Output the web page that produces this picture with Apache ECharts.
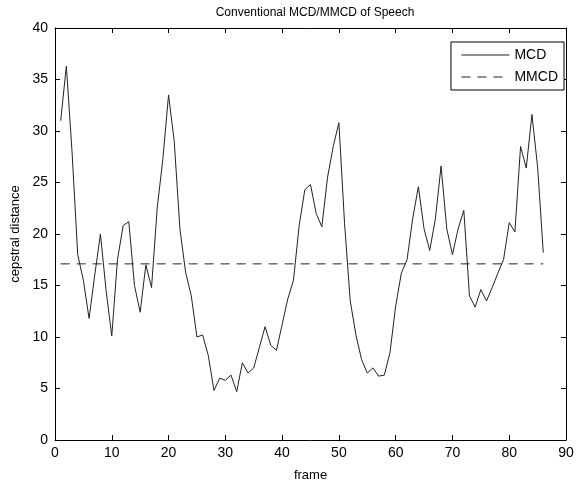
<!DOCTYPE html>
<html>
<head>
<meta charset="utf-8">
<script src="https://cdn.jsdelivr.net/npm/echarts@6/dist/echarts.min.js"></script>
<style>html,body{margin:0;padding:0;background:#fff;}#c{width:580px;height:487px;}</style>
</head>
<body>
<div id="c"></div>
<script>
var frames = [];
for (var i = 1; i <= 86; i++) frames.push(i);
var mcd = [31.0, 36.3, 28.0, 18.0, 15.5, 11.8, 16.0, 20.0, 14.5, 10.1,
           17.5, 20.8, 21.2, 15.0, 12.4, 17.0, 14.8, 22.5, 27.3, 33.5,
           29.0, 20.5, 16.3, 14.0, 10.0, 10.2, 8.2, 4.8, 6.0, 5.8,
           6.3, 4.7, 7.5, 6.5, 7.0, 9.0, 11.0, 9.2, 8.7, 11.2,
           13.7, 15.5, 20.8, 24.3, 24.8, 22.0, 20.7, 25.5, 28.5, 30.8,
           21.0, 13.5, 10.2, 7.8, 6.5, 7.0, 6.2, 6.3, 8.5, 13.0,
           16.2, 17.5, 21.5, 24.6, 20.5, 18.4, 21.5, 26.6, 20.5, 18.0,
           20.5, 22.3, 14.0, 12.9, 14.6, 13.5, 14.8, 16.2, 17.5, 21.1,
           20.2, 28.5, 26.4, 31.6, 26.5, 18.2];
var mmcdValue = 17.1;
var mmcd = frames.map(function () { return mmcdValue; });
var seriesNames = ['MCD', 'MMCD'];
var xTicks = {min: 0, max: 90, interval: 10};
var yTicks = {min: 0, max: 40, interval: 5};

var font = 'Liberation Sans, Arial, sans-serif';
var chart = echarts.init(document.getElementById('c'), null, {renderer: 'canvas'});
function pairs(ys) { return frames.map(function (f, i) { return [f, ys[i]]; }); }
function axisStyle() {
  return {
    axisLine: {show: true, onZero: false, lineStyle: {color: '#000', width: 1}},
    axisTick: {show: true, inside: true, length: 5, lineStyle: {color: '#000'}},
    splitLine: {show: false}
  };
}
var xMain = Object.assign({type: 'value', position: 'bottom', min: xTicks.min, max: xTicks.max, interval: xTicks.interval,
  name: 'frame', nameLocation: 'middle', nameGap: 29,
  nameTextStyle: {fontFamily: font, fontSize: 13, color: '#000'},
  axisLabel: {fontFamily: font, fontSize: 14, color: '#000', margin: 6}}, axisStyle());
var xTop = Object.assign({type: 'value', position: 'top', min: xTicks.min, max: xTicks.max, interval: xTicks.interval,
  axisLabel: {show: false}}, axisStyle());
var yMain = Object.assign({type: 'value', position: 'left', min: yTicks.min, max: yTicks.max, interval: yTicks.interval,
  name: 'cepstral distance', nameLocation: 'middle', nameGap: 31,
  nameTextStyle: {fontFamily: font, fontSize: 13, color: '#000'},
  axisLabel: {fontFamily: font, fontSize: 14, color: '#000', margin: 7}}, axisStyle());
var yRight = Object.assign({type: 'value', position: 'right', min: yTicks.min, max: yTicks.max, interval: yTicks.interval,
  axisLabel: {show: false}}, axisStyle());

chart.setOption({
  backgroundColor: '#fff',
  animation: false,
  title: {
    text: 'Conventional MCD/MMCD of Speech',
    left: 310, top: 2, textAlign: 'center',
    textStyle: {fontFamily: font, fontSize: 12, fontWeight: 'normal', color: '#000'}
  },
  legend: {
    show: true,
    data: seriesNames,
    orient: 'vertical',
    right: 16, top: 42,
    backgroundColor: '#fff',
    borderColor: '#000', borderWidth: 1,
    padding: [6, 6, 6, 10],
    itemWidth: 48, itemHeight: 14, itemGap: 8,
    itemStyle: {opacity: 0, borderWidth: 0},
    lineStyle: {width: 1},
    z: 10,
    textStyle: {fontFamily: font, fontSize: 14, color: '#000'}
  },
  grid: {left: 55, right: 14, top: 28, bottom: 47},
  xAxis: [xMain, xTop],
  yAxis: [yMain, yRight],
  series: [
    {name: seriesNames[0], type: 'line', data: pairs(mcd), symbol: 'none',
      lineStyle: {color: '#222', width: 1}, itemStyle: {color: '#222'}},
    {name: seriesNames[1], type: 'line', data: pairs(mmcd), symbol: 'none',
      lineStyle: {color: '#222', width: 1, type: [9, 7]}, itemStyle: {color: '#222'}}
  ]
});
</script>
</body>
</html>
